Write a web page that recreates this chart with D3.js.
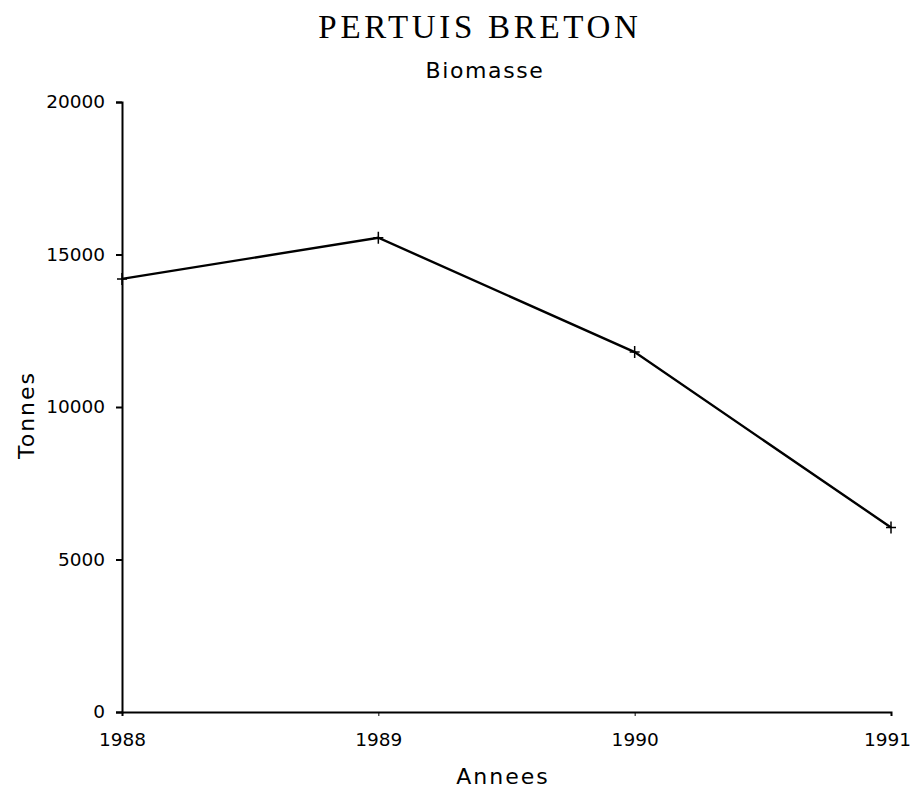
<!DOCTYPE html>
<html>
<head>
<meta charset="utf-8">
<script src="https://cdn.jsdelivr.net/npm/d3@7"></script>
<style>
  body { margin: 0; background: #fff; }
  text { fill: #000; }
</style>
</head>
<body>
<svg id="chart" width="921" height="792"></svg>
<script>
var years = [1988, 1989, 1990, 1991];
var biomasse = [14200, 15550, 11800, 6050];
var yTicks = [0, 5000, 10000, 15000, 20000];

var margin = {top: 102, left: 122, right: 30, bottom: 80},
	width = 921,
	height = 792;

var svg = d3.select("#chart");

var x = d3.scaleLinear()
	.domain([1988, 1991])
	.range([margin.left, width - margin.right]);

var y = d3.scaleLinear()
	.domain([0, 20000])
	.range([height - margin.bottom, margin.top]);

// y axis
var yAxis = d3.axisLeft(y)
	.tickValues(yTicks)
	.tickSize(6)
	.tickPadding(11)
	.tickFormat(d3.format("d"));

svg.append("g")
	.attr("transform", "translate(" + margin.left + ",0)")
	.call(yAxis)
	.call(function(g) {
		g.select(".domain").attr("stroke-width", 2);
		g.selectAll(".tick line").attr("stroke-width", 2);
		g.selectAll("text").attr("font-family", "DejaVu Sans").attr("font-size", 18.5);
	});

// x axis
var xAxis = d3.axisBottom(x)
	.tickValues(years)
	.tickSize(4)
	.tickPadding(17)
	.tickFormat(d3.format("d"));

svg.append("g")
	.attr("transform", "translate(0," + y(0) + ")")
	.call(xAxis)
	.call(function(g) {
		g.select(".domain").attr("stroke-width", 2);
		g.selectAll("text").attr("font-family", "DejaVu Sans").attr("font-size", 18.5);
		// last label sits a bit left in the original
		g.selectAll(".tick text").filter(function(d) { return d === 1991; }).attr("dx", -4);
	});

var data = years.map(function(d, i) { return {year: d, value: biomasse[i]}; });

var line = d3.line()
	.x(function(d) { return x(d.year); })
	.y(function(d) { return y(d.value); });

svg.append("path")
	.datum(data)
	.attr("fill", "none")
	.attr("stroke", "#000")
	.attr("stroke-width", 2.4)
	.attr("d", line);

// small + markers
svg.selectAll(".mark")
	.data(data)
	.enter()
	.append("path")
	.attr("class", "mark")
	.attr("transform", function(d) { return "translate(" + x(d.year) + "," + y(d.value) + ")"; })
	.attr("d", "M-5,0H5M0,-6V6")
	.attr("stroke", "#000")
	.attr("stroke-width", 1.5);

// titles
svg.append("text")
	.attr("x", 480)
	.attr("y", 38)
	.attr("text-anchor", "middle")
	.attr("font-family", "Liberation Serif")
	.attr("font-size", 33)
	.attr("letter-spacing", 3.7)
	.text("PERTUIS BRETON");

svg.append("text")
	.attr("x", 485)
	.attr("y", 78)
	.attr("text-anchor", "middle")
	.attr("font-family", "DejaVu Sans")
	.attr("font-size", 22)
	.attr("letter-spacing", 1.6)
	.text("Biomasse");

svg.append("text")
	.attr("x", 503)
	.attr("y", 784)
	.attr("text-anchor", "middle")
	.attr("font-family", "DejaVu Sans")
	.attr("font-size", 22)
	.attr("letter-spacing", 2)
	.text("Annees");

svg.append("text")
	.attr("transform", "translate(34,415) rotate(-90)")
	.attr("text-anchor", "middle")
	.attr("font-family", "DejaVu Sans")
	.attr("font-size", 22)
	.attr("letter-spacing", 2)
	.text("Tonnes");
</script>
</body>
</html>
